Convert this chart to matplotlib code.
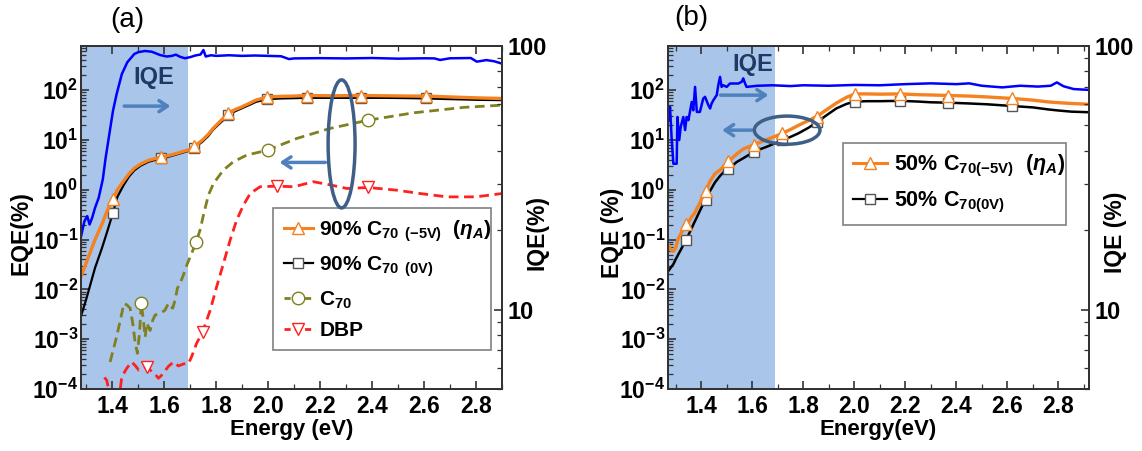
import numpy as np
import matplotlib
matplotlib.use('Agg')
import matplotlib.pyplot as plt
from matplotlib.patches import Ellipse
from matplotlib.lines import Line2D
from matplotlib.ticker import (LogLocator, FixedLocator, FixedFormatter, FuncFormatter,
                               NullFormatter, FormatStrFormatter)

plt.rcParams['font.family'] = ['Liberation Sans', 'DejaVu Sans']
plt.rcParams['font.weight'] = 'bold'
plt.rcParams['axes.labelweight'] = 'bold'
plt.rcParams['mathtext.fontset'] = 'custom'
plt.rcParams['mathtext.rm'] = 'Liberation Sans:bold'
plt.rcParams['mathtext.it'] = 'Liberation Sans:italic:bold'
plt.rcParams['mathtext.bf'] = 'Liberation Sans:bold'

# ---------------- Panel (a) data ----------------
x_a = [1.279, 1.300, 1.334, 1.360, 1.380, 1.403, 1.420, 1.444, 1.465, 1.485,
       1.510, 1.540, 1.586, 1.620, 1.650, 1.692, 1.716, 1.747, 1.770, 1.788,
       1.820, 1.847, 1.870, 1.898, 1.930, 1.953, 1.997, 2.050, 2.100, 2.150,
       2.250, 2.357, 2.450, 2.550, 2.607, 2.700, 2.800, 2.895]
eqe90_m5v = [0.0177, 0.034, 0.10, 0.20, 0.37, 0.66, 1.0, 1.5, 2.1, 2.7,
             3.3, 3.9, 4.5, 4.9, 5.4, 6.3, 7.4, 9.9, 13, 17,
             25, 34, 40, 46, 55, 63, 73, 75, 76, 78,
             77, 78, 77, 76, 76, 73, 70, 68]
eqe90_0v = [0.0028, 0.0063, 0.027, 0.066, 0.14, 0.345, 0.72, 1.24, 1.85, 2.45,
            3.05, 3.65, 4.25, 4.65, 5.15, 6.0, 7.0, 9.2, 12, 16,
            23, 31, 37, 43, 51, 58, 66, 68, 69, 70,
            70, 70, 70, 69, 68, 66, 64, 63]
mk_a = [5, 12, 16, 21, 26, 29, 31, 34]

c70_x = [1.392, 1.404, 1.417, 1.437, 1.445, 1.456, 1.469, 1.479, 1.488, 1.497,
         1.505, 1.512, 1.520, 1.527, 1.533, 1.546, 1.556, 1.565, 1.584, 1.603,
         1.616, 1.623, 1.633, 1.642, 1.651, 1.661, 1.674, 1.687, 1.703, 1.723,
         1.738, 1.754, 1.771, 1.790, 1.809, 1.828, 1.866, 1.918, 1.999, 2.110,
         2.238, 2.386, 2.559, 2.751, 2.900]
c70_eqe = [3.5e-4, 6.1e-4, 1.12e-3, 3.3e-3, 5.2e-3, 4.9e-3, 4.2e-3, 2.1e-3, 8.9e-4, 5.2e-4,
           1.3e-3, 5.3e-3, 2.4e-3, 1.1e-3, 2.1e-3, 1.5e-3, 2.4e-3, 3.05e-3, 3.3e-3, 3.8e-3,
           5.2e-3, 4.5e-3, 4.2e-3, 6.1e-3, 0.0105, 0.0132, 0.0193, 0.0307, 0.049, 0.088,
           0.155, 0.36, 0.80, 1.34, 1.83, 2.48, 3.64, 4.97, 6.25, 10.7,
           17, 25, 35, 45, 50]
mk_c70 = [11, 29, 38, 41]

dbp_x = [1.370, 1.379, 1.390, 1.410, 1.430, 1.437, 1.456, 1.475, 1.490, 1.502,
         1.533, 1.550, 1.565, 1.578, 1.595, 1.615, 1.636, 1.655, 1.675, 1.693,
         1.706, 1.725, 1.748, 1.777, 1.802, 1.828, 1.854, 1.879, 1.905, 1.931,
         1.969, 2.033, 2.10, 2.174, 2.24, 2.303, 2.386, 2.495, 2.585, 2.688,
         2.80, 2.90]
dbp_eqe = [1.7e-4, 1.5e-4, 8e-5, 5e-5, 9e-5, 1.77e-4, 2.6e-4, 3.5e-4, 2.9e-4, 2.4e-4,
           2.8e-4, 2.3e-4, 2.0e-4, 1.64e-4, 2.0e-4, 2.8e-4, 3.5e-4, 2.9e-4, 3.2e-4, 3.2e-4,
           4.5e-4, 8.3e-4, 1.4e-3, 3.8e-3, 0.0113, 0.033, 0.098, 0.246, 0.49, 0.84,
           1.15, 1.18, 1.15, 1.45, 1.25, 1.06, 1.11, 0.98, 0.84, 0.72,
           0.72, 0.84]
mk_dbp = [10, 22, 31, 36]

iqe_a_x = [1.279, 1.293, 1.304, 1.313, 1.323, 1.334, 1.348, 1.364, 1.375, 1.389,
           1.403, 1.417, 1.437, 1.458, 1.485, 1.500, 1.526, 1.552, 1.584, 1.610,
           1.630, 1.645, 1.661, 1.680, 1.700, 1.720, 1.740, 1.751, 1.760, 1.780,
           1.800, 1.850, 1.900, 1.950, 2.000, 2.050, 2.080, 2.100, 2.200, 2.300,
           2.400, 2.500, 2.600, 2.640, 2.662, 2.700, 2.780, 2.803, 2.840, 2.870, 2.895]
iqe_a = [18.7, 21.6, 22.6, 21.0, 22.3, 24.3, 26.5, 31.2, 37.7, 46.2,
         56.6, 65.5, 78, 86.5, 93, 94.5, 95.5, 94.9, 92.2, 91.0,
         91.5, 92.5, 90.8, 89.6, 90.5, 91.8, 92.6, 96.3, 91, 92,
         91.5, 92, 91.5, 91.8, 91.5, 91.2, 89.0, 89.5, 89.7, 89.5,
         89.8, 89.3, 89.6, 89.5, 88.3, 89.6, 89.8, 87.0, 88.2, 87.3, 85.8]

# ---------------- Panel (b) data ----------------
x_b = [1.273, 1.280, 1.291, 1.300, 1.310, 1.320, 1.330, 1.341, 1.352, 1.363,
       1.373, 1.383, 1.393, 1.402, 1.419, 1.435, 1.454, 1.474, 1.490, 1.507,
       1.539, 1.565, 1.608, 1.631, 1.657, 1.683, 1.718, 1.750, 1.780, 1.820,
       1.853, 1.890, 1.930, 1.970, 2.003, 2.050, 2.100, 2.180, 2.250, 2.300,
       2.369, 2.450, 2.520, 2.620, 2.700, 2.760, 2.800, 2.850, 2.920]
eqe50_m5v = [0.075, 0.062, 0.058, 0.068, 0.105, 0.13, 0.16, 0.206, 0.23, 0.29,
             0.33, 0.42, 0.52, 0.66, 0.96, 1.5, 2.1, 2.5, 3.0, 3.7,
             5.2, 6.6, 8.1, 9.0, 10.2, 11.4, 13.6, 16.2, 19.5, 24.5,
             29.4, 40, 55, 72, 84, 84, 83, 84, 81, 80,
             78, 76, 73, 68, 63, 58, 56, 54, 52]
eqe50_0v = [0.024, 0.027, 0.032, 0.040, 0.050, 0.062, 0.078, 0.098, 0.13, 0.17,
            0.22, 0.28, 0.36, 0.45, 0.63, 0.95, 1.4, 1.9, 2.3, 2.6,
            3.6, 4.3, 5.8, 6.5, 7.3, 8.3, 9.8, 11.5, 13.5, 17.5,
            22.6, 31, 43, 53, 59, 60, 60, 61, 59, 57,
            56, 54, 52, 48, 45, 41, 39, 37, 36]
mk_b = [7, 14, 19, 22, 26, 30, 34, 37, 40, 43]

iqe_b_x = [1.272, 1.278, 1.284, 1.291, 1.304, 1.307, 1.314, 1.320, 1.330, 1.337,
           1.343, 1.350, 1.363, 1.369, 1.376, 1.383, 1.395, 1.408, 1.415, 1.428,
           1.435, 1.441, 1.448, 1.461, 1.467, 1.474, 1.480, 1.487, 1.500, 1.513,
           1.533, 1.546, 1.559, 1.565, 1.572, 1.578, 1.620, 1.680, 1.750, 1.800,
           1.900, 2.000, 2.100, 2.200, 2.300, 2.400, 2.450, 2.500, 2.580, 2.650,
           2.720, 2.770, 2.794, 2.820, 2.860, 2.920]
iqe_b = [52, 58.6, 45, 35.7, 35.7, 53.7, 43.9, 49.3, 53.7, 47.9,
         53.7, 52.2, 61.2, 56.9, 69.8, 56.1, 56.1, 63, 64, 59.6,
         57.8, 60.4, 62.2, 65, 70.8, 76.2, 69.8, 70.8, 69.8, 71.9,
         71.9, 71.9, 73, 75.2, 71.9, 69.8, 70.5, 70.8, 70.3, 70.8,
         70.5, 71, 70.8, 71.5, 72, 71.5, 72, 70.5, 69.5, 70.5,
         70, 70.5, 72.6, 70.2, 68.5, 68]

x_major = [1.4, 1.6, 1.8, 2.0, 2.2, 2.4, 2.6, 2.8]
x_minor = [1.3, 1.5, 1.7, 1.9, 2.1, 2.3, 2.5, 2.7, 2.9]
iqe_ticks = [10, 100]
iqe_ticklabels = ['10', '100']

shade_end = 1.69
xlim_a = (1.28, 2.90)
xlim_b = (1.27, 2.92)
eqe_lim = (1e-4, 780)
iqe_lim = (5, 100)

C_OR = '#f5821f'
C_BK = '#000000'
C_BL = '#0000ff'
C_OL = '#808020'
C_RD = '#ff2020'
C_SH = '#a9c5e9'
C_EL = '#3f5f87'
C_AR = '#4f81bd'
C_IQE = '#1f3864'

fig = plt.figure(figsize=(11.42, 4.51), dpi=100)
axA = fig.add_axes([81/1142, 62/451, 421/1142, 343.3/451])
axB = fig.add_axes([668/1142, 62/451, 421/1142, 343.3/451])

pow_fmt = FuncFormatter(lambda v, p: r'$\mathbf{10^{%d}}$' % int(round(np.log10(v))))


def setup(ax, xlim):
    ax.set_yscale('log')
    ax.set_xlim(*xlim)
    ax.set_ylim(*eqe_lim)
    ax.axvspan(xlim[0] - 0.05, shade_end, color=C_SH, lw=0, zorder=0)
    ax.xaxis.set_major_locator(FixedLocator(x_major))
    ax.xaxis.set_minor_locator(FixedLocator([v for v in x_minor if xlim[0] <= v <= xlim[1]]))
    ax.xaxis.set_major_formatter(FormatStrFormatter('%.1f'))
    ax.yaxis.set_major_locator(FixedLocator([1e-4, 1e-3, 1e-2, 1e-1, 1, 10, 100]))
    ax.yaxis.set_major_formatter(pow_fmt)
    ax.yaxis.set_minor_locator(LogLocator(base=10, subs=np.arange(2, 10), numticks=20))
    ax.yaxis.set_minor_formatter(NullFormatter())
    ax.tick_params(which='both', direction='in', top=True, right=False,
                   labelsize=16.5, color='#333333')
    ax.tick_params(which='major', length=6, width=1.2)
    ax.tick_params(which='minor', length=3.5, width=0.9)
    ax.tick_params(axis='y', pad=2)
    ax.tick_params(axis='x', pad=4)
    for s in ax.spines.values():
        s.set_linewidth(1.4)
        s.set_color('#333333')
    ax2 = ax.twinx()
    ax2.set_yscale('log')
    ax2.set_ylim(*iqe_lim)
    ax2.yaxis.set_major_locator(FixedLocator(iqe_ticks))
    ax2.yaxis.set_major_formatter(FixedFormatter(iqe_ticklabels))
    ax2.yaxis.set_minor_locator(LogLocator(base=10, subs=np.arange(2, 10), numticks=20))
    ax2.yaxis.set_minor_formatter(NullFormatter())
    ax2.tick_params(which='both', direction='in', labelsize=17, pad=4, color='#333333')
    ax2.tick_params(which='major', length=6, width=1.2)
    ax2.tick_params(which='minor', length=3.5, width=0.9)
    for s in ax2.spines.values():
        s.set_linewidth(1.4)
        s.set_color('#333333')
    return ax2


axA2 = setup(axA, xlim_a)
axB2 = setup(axB, xlim_b)

mkw_tri = dict(marker='^', markersize=9, markerfacecolor='white',
               markeredgecolor=C_OR, markeredgewidth=1.0)
mkw_sq = dict(marker='s', markersize=7, markerfacecolor='white',
              markeredgecolor='#555555', markeredgewidth=1.0)

# ---- Panel (a)
axA.plot(dbp_x, dbp_eqe, color=C_RD, lw=2, dashes=(3.5, 2), marker='v', markersize=9,
         markerfacecolor='white', markeredgecolor=C_RD, markeredgewidth=1.0,
         markevery=mk_dbp, zorder=3)
axA.plot(c70_x, c70_eqe, color=C_OL, lw=2, dashes=(3.5, 2), marker='o', markersize=9,
         markerfacecolor='white', markeredgecolor=C_OL, markeredgewidth=1.0,
         markevery=mk_c70, zorder=3)
axA.plot(x_a, eqe90_0v, color=C_BK, lw=1.6, markevery=mk_a, zorder=4, **mkw_sq)
axA.plot(x_a, eqe90_m5v, color=C_OR, lw=2.4, markevery=mk_a, zorder=5, **mkw_tri)
axA2.plot(iqe_a_x, iqe_a, color=C_BL, lw=1.8)

hA = [Line2D([], [], color=C_OR, lw=2.2, **mkw_tri),
      Line2D([], [], color=C_BK, lw=1.6, **mkw_sq),
      Line2D([], [], color=C_OL, lw=2, dashes=(2.2, 1.5), marker='o', markersize=9,
             markerfacecolor='white', markeredgecolor=C_OL),
      Line2D([], [], color=C_RD, lw=2, dashes=(2.2, 1.5), marker='v', markersize=9,
             markerfacecolor='white', markeredgecolor=C_RD)]
lA = [r'90% C$_{70}$ $_{\mathrm{(-5V)}}$  ($\eta_{A}$)',
      r'90% C$_{70}$ $_{\mathrm{(0V)}}$',
      r'C$_{70}$',
      'DBP']
legA = axA.legend(hA, lA, loc='upper left', bbox_to_anchor=(0.457, 0.527, 0.517, 0.0),
                  mode='expand', fontsize=15, handlelength=1.4, handletextpad=0.3,
                  labelspacing=0.5, borderpad=0.5, borderaxespad=0, fancybox=False,
                  framealpha=1, edgecolor='#808080')
legA.get_frame().set_linewidth(1.2)

axA2.add_patch(Ellipse((0.619, 0.714), 0.064, 0.373, transform=axA2.transAxes,
                       fill=False, ec=C_EL, lw=2.5, zorder=6))
axA2.annotate('', xy=(0.465, 0.660), xytext=(0.587, 0.660), xycoords='axes fraction',
              arrowprops=dict(arrowstyle='->,head_length=0.6,head_width=0.4',
                              color=C_AR, lw=2.5))
axA2.annotate('', xy=(0.219, 0.824), xytext=(0.096, 0.824), xycoords='axes fraction',
              arrowprops=dict(arrowstyle='->,head_length=0.6,head_width=0.4',
                              color=C_AR, lw=2.5))
axA2.text(0.172, 0.908, 'IQE', transform=axA2.transAxes, ha='center', va='center',
          fontsize=17, color=C_IQE)

# ---- Panel (b)
axB.plot(x_b, eqe50_0v, color=C_BK, lw=1.8, markevery=mk_b, zorder=4, **mkw_sq)
axB.plot(x_b, eqe50_m5v, color=C_OR, lw=2.4, markevery=mk_b, zorder=5, **mkw_tri)
axB2.plot(iqe_b_x, iqe_b, color=C_BL, lw=1.8)

hB = [Line2D([], [], color=C_OR, lw=2.2, **mkw_tri),
      Line2D([], [], color=C_BK, lw=1.6, **mkw_sq)]
lB = [r'50% C$_{70\mathrm{(-5V)}}$  ($\eta_{A}$)',
      r'50% C$_{70\mathrm{(0V)}}$']
legB = axB.legend(hB, lB, loc='upper left', bbox_to_anchor=(0.416, 0.716, 0.529, 0.0),
                  mode='expand', fontsize=15.5, handlelength=1.6, handletextpad=0.3,
                  labelspacing=0.5, borderpad=0.45, borderaxespad=0, fancybox=False,
                  framealpha=1, edgecolor='#808080')
legB.get_frame().set_linewidth(1.2)

axB2.add_patch(Ellipse((0.283, 0.754), 0.156, 0.082, transform=axB2.transAxes,
                       fill=False, ec=C_EL, lw=2.5, zorder=6))
axB2.annotate('', xy=(0.122, 0.754), xytext=(0.205, 0.754), xycoords='axes fraction',
              arrowprops=dict(arrowstyle='->,head_length=0.6,head_width=0.4',
                              color=C_AR, lw=2.5))
axB2.annotate('', xy=(0.245, 0.856), xytext=(0.118, 0.856), xycoords='axes fraction',
              arrowprops=dict(arrowstyle='->,head_length=0.6,head_width=0.4',
                              color=C_AR, lw=2.5))
axB2.text(0.202, 0.944, 'IQE', transform=axB2.transAxes, ha='center', va='center',
          fontsize=17, color=C_IQE)

# ---- Axis labels
for ax, ax2, xl, yl, y2l, lx, rx in [
        (axA, axA2, 'Energy (eV)', 'EQE(%)', 'IQE(%)', -0.142, 1.084),
        (axB, axB2, 'Energy(eV)', 'EQE (%)', 'IQE (%)', -0.133, 1.063)]:
    ax.set_xlabel(xl, fontsize=16)
    ax.xaxis.set_label_coords(0.5, -0.088)
    ax.set_ylabel(yl, fontsize=16.5)
    ax.yaxis.label.set_va('center')
    ax.yaxis.set_label_coords(lx, 0.455)
    ax2.set_ylabel(y2l, fontsize=16.5)
    ax2.yaxis.label.set_va('center')
    ax2.yaxis.set_label_coords(rx, 0.455)

fig.text(127/1142, 1 - 20/451, '(a)', ha='center', va='center', fontsize=20,
         fontweight='normal')
fig.text(691/1142, 1 - 18/451, '(b)', ha='center', va='center', fontsize=20,
         fontweight='normal')

fig.savefig('out.png', dpi=100)
